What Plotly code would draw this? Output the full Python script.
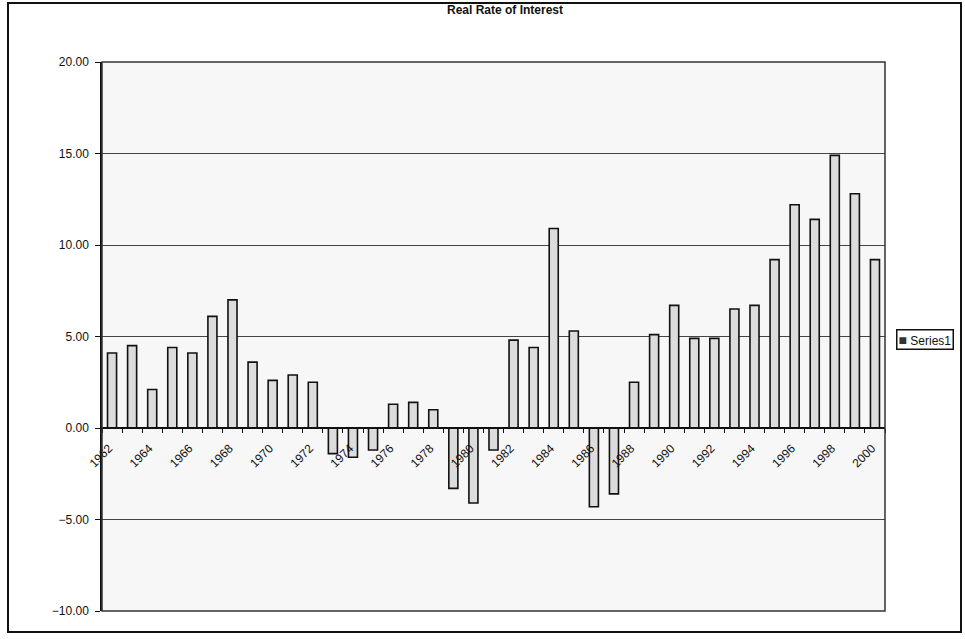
import plotly.graph_objects as go

years = list(range(1962, 2001))
rates = [4.1, 4.5, 2.1, 4.4, 4.1, 6.1, 7.0, 3.6, 2.6, 2.9, 2.5,
         -1.4, -1.6, -1.2, 1.3, 1.4, 1.0, -3.3, -4.1, -1.2,
         4.8, 4.4, 10.9, 5.3, -4.3, -3.6, 2.5, 5.1, 6.7, 4.9, 4.9,
         6.5, 6.7, 9.2, 12.2, 11.4, 14.9, 12.8, 9.2]
tick_years = list(range(1962, 2001, 2))
tick_labels = [str(y) for y in tick_years]
y_ticks = [-10, -5, 0, 5, 10, 15, 20]
series_name = "Series1"

W, H = 965, 639
L, R, T, B = 102, 80, 62, 28
pw = W - L - R
ph = H - T - B

fig = go.Figure()
fig.add_trace(go.Bar(
    x=years, y=rates, name=series_name,
    marker=dict(color="#dcdcdc", line=dict(color="#111111", width=1.6)),
    width=0.45, showlegend=False,
))

fig.update_layout(
    width=W, height=H,
    margin=dict(l=L, r=R, t=T, b=B, autoexpand=False),
    paper_bgcolor="white",
    plot_bgcolor="#f7f7f7",
    font=dict(family="Liberation Sans, Arial, sans-serif", color="#111111"),
    title=dict(text="<b>Real Rate of Interest</b>", x=505 / W, xref="container",
               xanchor="center", y=1 - 10 / H, yref="container", yanchor="middle",
               font=dict(size=12)),
    showlegend=False,
    bargap=0.55,
)

# legend box (Excel style)
fig.add_annotation(
    x=(896 - L) / pw, y=(611 - 339) / ph, xref="paper", yref="paper",
    xanchor="left", yanchor="middle", showarrow=False,
    text="<span style='color:#333333;font-size:14px'>■</span> " + series_name,
    font=dict(size=12, color="#111111"),
    bgcolor="white", bordercolor="#111111", borderwidth=1.5, borderpad=1,
)

fig.update_xaxes(
    range=[1961.5, 2000.5],
    tickmode="array", tickvals=tick_years, ticktext=tick_labels,
    tickangle=-45, tickfont=dict(size=12),
    ticklabelstandoff=8, ticklabelshift=-3,
    ticks="", showgrid=False,
    showline=True, linecolor="#111111", linewidth=1.5,
    anchor="free", position=1 / 3,
    minor=dict(tick0=1961.5, dtick=1, ticks="outside", ticklen=4,
               tickcolor="#111111", showgrid=False),
    zeroline=False,
)
fig.update_yaxes(
    range=[-10, 20],
    tickmode="array", tickvals=y_ticks,
    tickformat=".2f", tickfont=dict(size=12),
    ticks="outside", ticklen=5, tickcolor="#111111",
    ticklabelstandoff=4,
    showgrid=True, gridcolor="#444444", gridwidth=1.2,
    showline=True, linecolor="#111111", linewidth=1.5,
    zeroline=False,
)

# plot-area frame
fig.add_shape(type="rect", xref="paper", yref="paper", x0=0, x1=1, y0=0, y1=1,
              line=dict(color="#333333", width=1.5), layer="above")
# outer chart border
fig.add_shape(type="rect", xref="paper", yref="paper",
              x0=(8 - L) / pw, x1=(961 - L) / pw,
              y0=(H - B - 632) / ph, y1=(H - B - 3) / ph,
              line=dict(color="#111111", width=2), layer="above")

fig.write_html("out.html", config={"displayModeBar": False},
               post_script="document.body.style.margin='0';document.body.style.padding='0';")
